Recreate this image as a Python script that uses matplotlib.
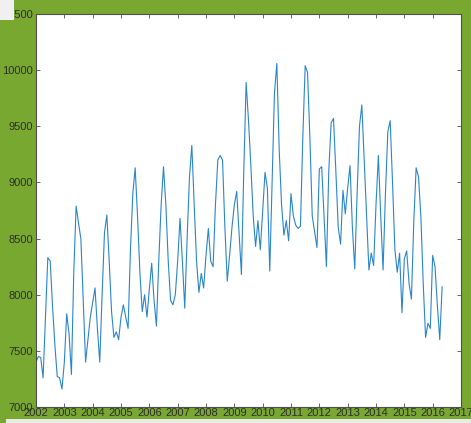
import numpy as np
import matplotlib
matplotlib.use("Agg")
from matplotlib import pyplot as plt
from matplotlib.patches import Rectangle

# monthly values, Jan 2002 .. May 2016
y2002 = [7400, 7450, 7440, 7260, 7800, 8330, 8300, 7900, 7550, 7270, 7260, 7160]
y2003 = [7400, 7830, 7650, 7290, 8200, 8790, 8640, 8500, 7950, 7400, 7600, 7800]
y2004 = [7930, 8060, 7700, 7400, 8000, 8550, 8710, 8300, 7850, 7620, 7670, 7600]
y2005 = [7800, 7910, 7800, 7700, 8400, 8900, 9130, 8700, 8200, 7850, 8000, 7800]
y2006 = [8050, 8280, 7950, 7720, 8300, 8800, 9140, 8800, 8300, 7950, 7910, 8000]
y2007 = [8300, 8680, 8300, 7880, 8500, 9050, 9330, 8800, 8300, 8020, 8190, 8060]
y2008 = [8350, 8590, 8300, 8250, 8800, 9200, 9240, 9200, 8600, 8120, 8350, 8600]
y2009 = [8800, 8920, 8550, 8180, 9100, 9890, 9550, 9150, 8700, 8430, 8660, 8400]
y2010 = [8750, 9090, 8950, 8210, 9000, 9800, 10060, 9290, 8800, 8530, 8660, 8480]
y2011 = [8900, 8700, 8620, 8590, 8610, 9400, 10040, 9980, 9400, 8700, 8560, 8420]
y2012 = [9120, 9140, 8700, 8250, 9100, 9530, 9570, 9100, 8600, 8450, 8930, 8720]
y2013 = [8950, 9150, 8600, 8230, 8900, 9500, 9690, 9200, 8700, 8220, 8370, 8260]
y2014 = [8800, 9240, 8700, 8220, 8900, 9450, 9550, 9000, 8400, 8200, 8370, 7840]
y2015 = [8320, 8390, 8100, 7960, 8650, 9130, 9050, 8700, 8100, 7620, 7745, 7700]
y2016 = [8350, 8250, 7900, 7600, 8070]

values = (y2002 + y2003 + y2004 + y2005 + y2006 + y2007 + y2008 + y2009
          + y2010 + y2011 + y2012 + y2013 + y2014 + y2015 + y2016)
years = list(range(2002, 2018))
yticks = list(range(7000, 10501, 500))

t = 2002 + np.arange(len(values)) / 12.0

fig = plt.figure(figsize=(4.71, 4.23), dpi=100)
fig.patch.set_facecolor("#78a82f")
ax = fig.add_axes([36/471, 16/423, 425/471, 393/423])
ax.set_facecolor("white")

ax.plot(t, values, color="#2a86cc", lw=0.8)

ax.set_xlim(2002, 2017)
ax.set_ylim(7000, 10500)
ax.set_xticks(years)
ax.set_xticklabels([str(y) for y in years])
ax.set_yticks(yticks)
ax.set_yticklabels([str(v) for v in yticks])

ax.tick_params(direction="in", top=True, right=True, length=3, width=0.6,
               color="#505050", labelcolor="#2e2e2e", labelsize=8, pad=2)
for lab in ax.get_xticklabels() + ax.get_yticklabels():
    lab.set_fontfamily("Liberation Sans")
ax.tick_params(axis="x", pad=1)
for s in ax.spines.values():
    s.set_color("#505050")
    s.set_linewidth(0.8)

# screenshot artefacts: light patch top-left, light strip at the bottom
fig.patches.append(Rectangle((0, 403/423), 14/471, 20/423, transform=fig.transFigure,
                             facecolor="#f0f0f0", edgecolor="none", zorder=5))
fig.patches.append(Rectangle((6/471, 0), 465/471, 4/423, transform=fig.transFigure,
                             facecolor="#e8ebe4", edgecolor="none", zorder=5))

fig.savefig("out.png", dpi=100, facecolor=fig.get_facecolor())
